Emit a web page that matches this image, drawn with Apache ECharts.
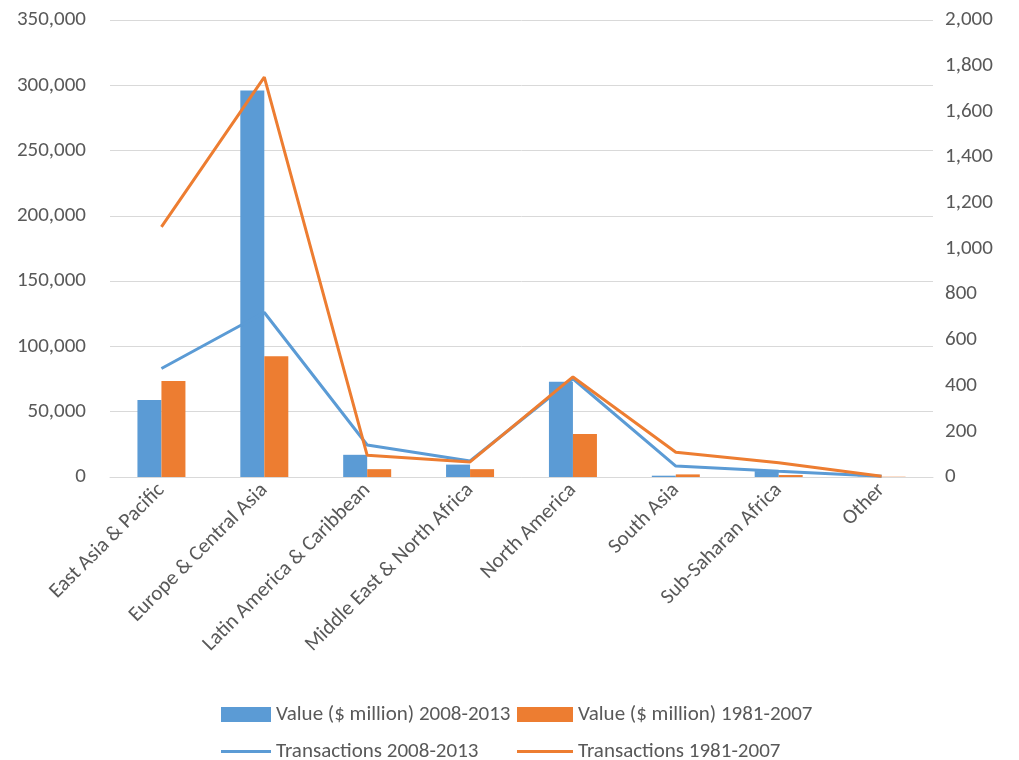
<!DOCTYPE html>
<html><head><meta charset="utf-8">
<script src="https://cdn.jsdelivr.net/npm/echarts@6/dist/echarts.min.js"></script>
<style>html,body{margin:0;padding:0;background:#fff}#c{width:1019px;height:760px}</style>
</head><body><div id="c"></div>
<script>
const categories = ['East Asia & Pacific','Europe & Central Asia','Latin America & Caribbean','Middle East & North Africa','North America','South Asia','Sub-Saharan Africa','Other'];
const value2008 = [59000, 296000, 17000, 9500, 73000, 1000, 4500, 300];
const value1981 = [73500, 92500, 6000, 6000, 33000, 2000, 1500, 200];
const trans2008 = [475, 720, 140, 70, 430, 48, 25, 3];
const trans1981 = [1095, 1750, 95, 66, 438, 108, 62, 3];
const names = ['Value ($ million) 2008-2013','Value ($ million) 1981-2007','Transactions 2008-2013','Transactions 1981-2007'];
const blue = '#5B9BD5', orange = '#ED7D31', txt = '#595959';
const font = 'Calibri, Carlito, "Liberation Sans", "DejaVu Sans", sans-serif';
const legTxt = {color: txt, fontSize: 21, fontFamily: font};
const chart = echarts.init(document.getElementById('c'));
chart.setOption({
  animation: false,
  textStyle: {fontFamily: font},
  grid: {left: 110, right: 86, top: 20, bottom: 283, containLabel: false},
  legend: [
    {data: [{name: names[0], icon: 'rect'}], left: 216, top: 699, itemWidth: 50, itemHeight: 15, itemGap: 4, textStyle: legTxt},
    {data: [{name: names[1], icon: 'rect'}], left: 512, top: 699, itemWidth: 56, itemHeight: 15, itemGap: 4, textStyle: legTxt},
    {data: [{name: names[2], icon: 'rect'}], left: 216, top: 736, itemWidth: 50, itemHeight: 3, textStyle: legTxt},
    {data: [{name: names[3], icon: 'rect'}], left: 512, top: 736, itemWidth: 56, itemHeight: 3, textStyle: legTxt}
  ],
  xAxis: {
    type: 'category', data: categories,
    axisLine: {lineStyle: {color: '#d9d9d9'}},
    axisTick: {show: false},
    axisLabel: {rotate: 45, color: txt, fontSize: 21, interval: 0, margin: 10}
  },
  yAxis: [
    {type: 'value', min: 0, max: 350000, interval: 50000,
     axisLine: {show: false}, axisTick: {show: false},
     splitLine: {lineStyle: {color: '#d9d9d9'}},
     axisLabel: {color: txt, fontSize: 21, margin: 24, formatter: v => v.toLocaleString('en-US')}},
    {type: 'value', min: 0, max: 2000, interval: 200,
     axisLine: {show: false}, axisTick: {show: false}, splitLine: {show: false},
     axisLabel: {color: txt, fontSize: 21, margin: 12, formatter: v => v.toLocaleString('en-US')}}
  ],
  series: [
    {name: names[0], type: 'bar', data: value2008, itemStyle: {color: blue}, barWidth: 24, barGap: '0%'},
    {name: names[1], type: 'bar', data: value1981, itemStyle: {color: orange}, barWidth: 24, barGap: '0%'},
    {name: names[2], type: 'line', yAxisIndex: 1, data: trans2008, showSymbol: false, symbol: 'none',
     lineStyle: {color: blue, width: 3}, itemStyle: {color: blue}},
    {name: names[3], type: 'line', yAxisIndex: 1, data: trans1981, showSymbol: false, symbol: 'none',
     lineStyle: {color: orange, width: 3}, itemStyle: {color: orange}}
  ]
});
</script></body></html>
